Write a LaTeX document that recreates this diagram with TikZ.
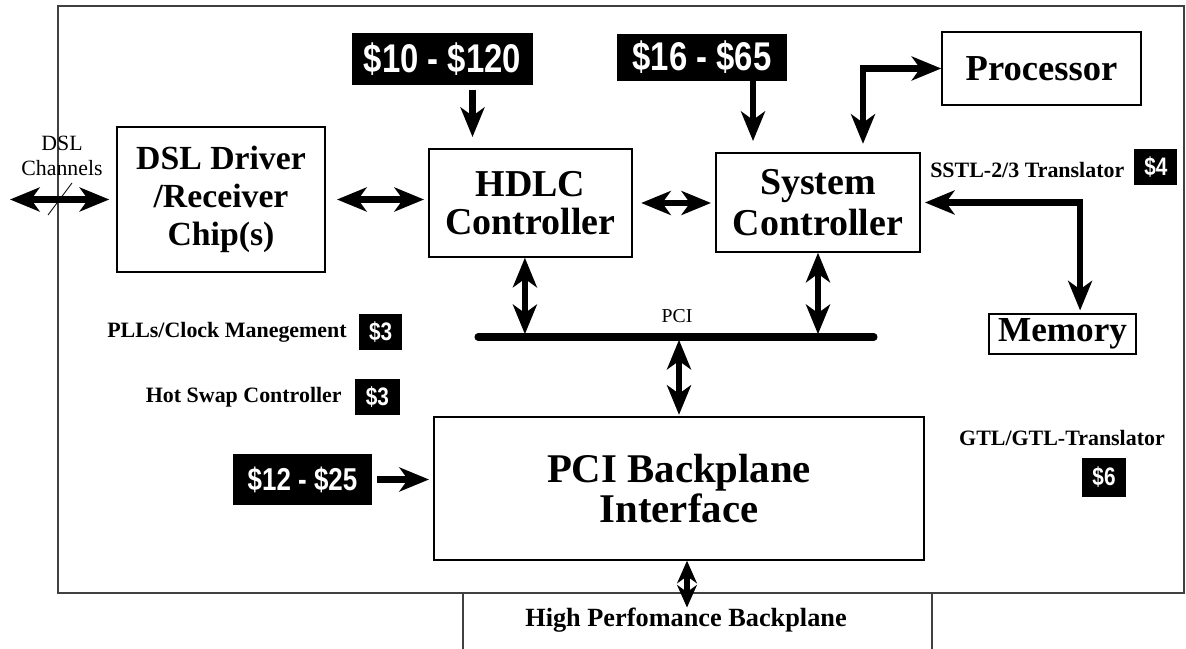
\documentclass[tikz,border=0pt]{standalone}
\usepackage{fontspec}
\setmainfont{Liberation Serif}
\newfontfamily\tagfont[FakeStretch=0.82]{Liberation Sans}
\usetikzlibrary{arrows.meta,positioning}

\tikzset{
  block/.style={draw,line width=1pt,inner sep=0pt,align=center,
    font=\bfseries\fontsize{24}{27}\selectfont},
  price/.style={fill=black,text=white,inner sep=0pt,
    font=\tagfont\bfseries\fontsize{28.5}{28.5}\selectfont},
  smallprice/.style={price,font=\tagfont\bfseries\fontsize{18}{18}\selectfont},
  cost/.style={inner sep=0pt,font=\bfseries\fontsize{15.6}{18}\selectfont},
  link/.style={line width=4.3pt,-{Stealth[length=21pt,width=17pt,inset=6pt]}},
  dlink/.style={line width=4.3pt,
    {Stealth[length=21pt,width=17pt,inset=6pt]}-{Stealth[length=21pt,width=17pt,inset=6pt]}},
}

\begin{document}
\begin{tikzpicture}[x=0.025cm,y=-0.025cm]
\useasboundingbox (0,0) rectangle (1186,649);

% line card outline and the backplane slot below it
\draw[line width=1.2pt,black!75] (58,6) rectangle (1184,593);
\draw[line width=1.2pt,black!75] (463,649) -- (463,593) (932,593) -- (932,649);

% main blocks
\node[block,minimum width=5.2cm,minimum height=3.625cm] (dsl) at (221,199.5) {DSL Driver\\/Receiver\\Chip(s)};
\node[block,minimum width=5.075cm,minimum height=2.7cm,
  font=\bfseries\fontsize{27}{27}\selectfont] (hdlc) at (530.5,203) {HDLC\\Controller};
\node[block,minimum width=5.1cm,minimum height=2.475cm,
  font=\bfseries\fontsize{27}{29}\selectfont] (sysc) at (818,202.5) {System\\Controller};
\node[block,minimum width=4.975cm,minimum height=1.825cm,
  font=\bfseries\fontsize{26}{28}\selectfont] (proc) at (1041.5,68.5) {Processor};
\node[block,minimum width=3.675cm,minimum height=1cm,
  font=\bfseries\fontsize{25}{27}\selectfont] (mem) at (1062.5,334) {Memory};
\node[block,minimum width=12.25cm,minimum height=3.575cm,
  font=\bfseries\fontsize{29}{29}\selectfont] (pcib) at (679,488.5) {PCI Backplane\\Interface};

% cost tags
\node[price,minimum width=4.525cm,minimum height=1.3cm] (t10) at (442.5,59) {\$10 - \$120};
\node[price,minimum width=4.25cm,minimum height=1.175cm] (t16) at (702,57.5) {\$16 - \$65};
\node[price,minimum width=3.475cm,minimum height=1.275cm,
  font=\tagfont\bfseries\fontsize{22.5}{22.5}\selectfont] (t12) at (302.5,479.5) {\$12 - \$25};

\node[cost,anchor=east] (pll) at (347,332) {PLLs/Clock Manegement};
\node[smallprice,minimum width=1.075cm,minimum height=0.9cm,right=8.5pt of pll] (tpll) {\$3};
\node[cost,anchor=east] (hot) at (342,397) {Hot Swap Controller};
\node[smallprice,minimum width=1.125cm,minimum height=0.875cm,right=9pt of hot] (thot) {\$3};
\node[cost,anchor=west] (sstl) at (930,170) {SSTL-2/3 Translator};
\node[smallprice,minimum width=1.075cm,minimum height=0.9cm,anchor=west] (tsstl) at (1134,167) {\$4};
\node[cost] (gtl) at (1062,438) {GTL/GTL-Translator};
\node[smallprice,minimum width=1.1cm,minimum height=0.975cm,below=8pt of gtl,xshift=1.05cm] (tgtl) {\$6};

% plain labels
\node[inner sep=0pt,font=\bfseries\fontsize{18.7}{20}\selectfont] (hpb) at (686,620) {High Perfomance Backplane};
\node[inner sep=0pt,font=\fontsize{14}{16}\selectfont] (pcilbl) at (677,316) {PCI};
\node[inner sep=0pt,align=center,font=\fontsize{15.5}{18}\selectfont] (chlbl) at (62,156) {DSL\\Channels};

% PCI bus
\coordinate (busw) at (478,337);
\coordinate (buse) at (874,337);
\draw[line width=5pt,line cap=round] (busw) -- (buse);

% DSL channels
\coordinate (chan) at (10,199.5);
\draw[line width=0.6pt] (48,215) -- (72,183);
\draw[dlink,shorten >=5pt] (chan) -- (dsl.west);

% data paths
\draw[dlink,shorten <=8pt,shorten >=3pt] (dsl.east) -- (dsl.east -| hdlc.west);
\draw[dlink,shorten <=6pt,shorten >=3pt] (hdlc.east) -- (hdlc.east -| sysc.west);
\draw[link,shorten <=3pt,shorten >=8pt] ([xshift=0.75cm]t10.south) -- ([xshift=0.75cm]t10.south |- hdlc.north);
\draw[link,shorten >=8pt] ([xshift=1.275cm]t16.south) -- ([xshift=1.275cm]t16.south |- sysc.north);
\draw[dlink,shorten <=6pt] ([xshift=1.125cm]sysc.north) |- (proc.west);
\draw[dlink,shorten <=3pt,shorten >=2pt] (sysc.east) -| ([xshift=0.44cm]mem.north);

% bus taps
\draw[dlink,shorten >=2pt] ([xshift=-0.14cm]hdlc.south) -- ([xshift=-0.14cm]hdlc.south |- busw);
\draw[dlink,shorten >=2pt] (sysc.south) -- (sysc.south |- buse);
\draw[dlink,shorten <=2pt,shorten >=1pt] (pcib.north |- busw) -- (pcib.north);
\draw[link,shorten <=3pt,shorten >=3pt] (t12.east) -- (t12.east -| pcib.west);
\draw[line width=4pt,{Stealth[length=16pt,width=14pt,inset=5pt]}-{Stealth[length=16pt,width=14pt,inset=5pt]}]
  ([xshift=0.2cm]pcib.south) -- ([xshift=0.2cm]pcib.south |- hpb.north);

\end{tikzpicture}
\end{document}
